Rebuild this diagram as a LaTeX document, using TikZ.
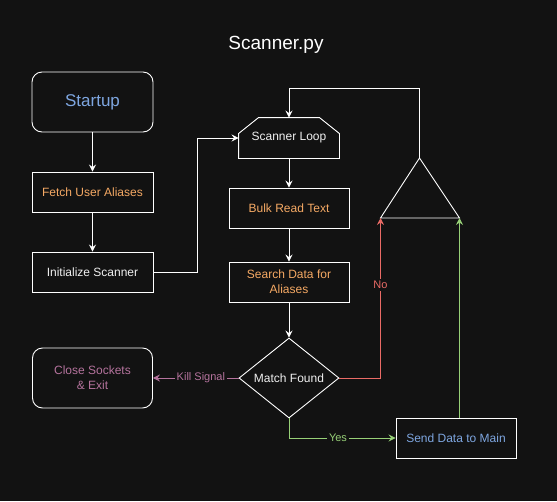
\documentclass[tikz,border=0pt]{standalone}
\usepackage{fontspec}
\setmainfont{Liberation Sans}
\usetikzlibrary{arrows.meta,calc,positioning,shapes.geometric}
\definecolor{bg}{HTML}{121212}
\definecolor{txtblue}{HTML}{7EA6E0}
\definecolor{txtorange}{HTML}{F5A964}
\definecolor{txtpink}{HTML}{B5739D}
\definecolor{nored}{HTML}{EA6B66}
\definecolor{yesgreen}{HTML}{97D077}
\definecolor{txtwhite}{HTML}{F0F0F0}
\tikzset{
    box/.style={draw=white, line width=0.9pt, minimum width=120pt, minimum height=40pt,
        align=center, inner sep=0pt, font=\fontsize{12}{15}\selectfont},
    roundbox/.style={box, rounded corners=10pt, minimum height=60pt},
    flow/.style={draw=white, line width=0.9pt, -{Stealth[length=7pt,width=7pt,inset=2.5pt]}},
    lbl/.style={fill=bg, inner sep=2pt, font=\fontsize{11}{13}\selectfont}
}

\begin{document}
\begin{tikzpicture}[x=1pt, y=-1pt]
    \fill[bg] (0,0) rectangle (557,501);
    \useasboundingbox (0,0) rectangle (557,501);

    \node[text=white, font=\fontsize{19}{22}\selectfont] (title) at (276,45) {Scanner.py};

    \node[roundbox, minimum width=121pt, text=txtblue, font=\fontsize{17}{20}\selectfont] (startup) at (92.5,102) {Startup};
    \node[box, minimum width=121pt, text=txtorange] (fetch) at (92.5,192) {Fetch User Aliases};
    \node[box, minimum width=121pt, text=txtwhite] (init) at (92.5,272) {Initialize Scanner};
    \node[box, draw=none, minimum width=100pt, text=txtwhite] (loop) at (289,138) {Scanner Loop};
    \node[box, text=txtorange] (bulk) at (289,208) {Bulk Read Text};
    \node[box, text=txtorange] (search) at (289,282) {Search Data for\\Aliases};
    \node[box, diamond, aspect=1.25, minimum width=100pt, minimum height=80pt, text=txtwhite] (match) at (289,378) {Match Found};
    \node[roundbox, text=txtpink] (close) at (92.5,378) {Close Sockets\\\& Exit};
    \node[box, text=txtblue] (send) at (456,438) {Send Data to Main};

    % loop limit outline
    \draw[white, line width=0.9pt] (loop.south west) -- ($(loop.north west)+(0,16)$)
        -- ($(loop.north west)+(20,0)$) -- ($(loop.north east)+(-20,0)$)
        -- ($(loop.north east)+(0,16)$) -- (loop.south east) -- cycle;

    % merge triangle
    \coordinate (tritop) at (419.5,158);
    \coordinate (trileft) at (380.5,218);
    \coordinate (triright) at (459.5,218);
    \draw[white, line width=0.9pt] (tritop) -- (trileft) -- (triright) -- cycle;

    \draw[flow] (startup) -- (fetch);
    \draw[flow] (fetch) -- (init);
    \draw[flow] (init.east) -- ++(43.5,0) |- (loop.west);
    \draw[flow] (loop) -- (bulk);
    \draw[flow] (bulk) -- (search);
    \draw[flow] (search) -- (match);
    \draw[flow] (tritop) -- ++(0,-70) -| (loop.north);

    \draw[flow, draw=txtpink, -{Stealth[length=7pt,width=7pt,inset=2.5pt]}] (match.west) -- (close.east)
        node[lbl, pos=0.44, text=txtpink] {Kill Signal};
    \draw[flow, draw=nored] (match.east) -| (trileft)
        node[lbl, pos=0.79, text=nored] {No};
    \draw[flow, draw=yesgreen] (match.south) |- (send.west)
        node[lbl, pos=0.73, text=yesgreen] {Yes};
    \draw[flow, draw=yesgreen] (triright |- send.north) -- (triright);
\end{tikzpicture}
\end{document}
